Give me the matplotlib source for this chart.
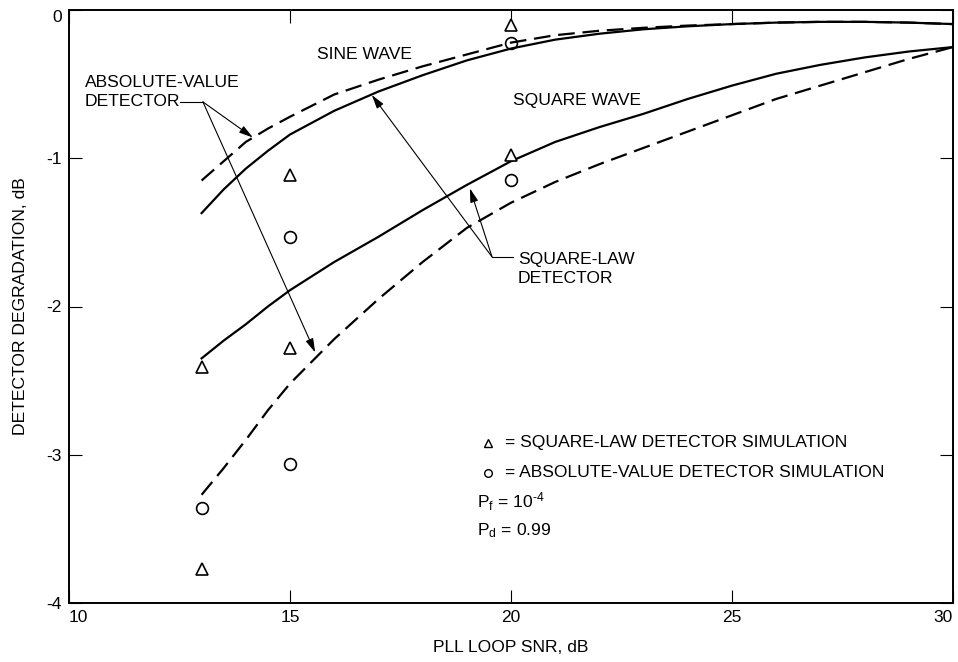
import matplotlib.pyplot as plt

plt.rcParams['font.family'] = ['Liberation Sans', 'DejaVu Sans']
plt.rcParams['mathtext.fontset'] = 'custom'
plt.rcParams['mathtext.rm'] = 'Liberation Sans'
plt.rcParams['mathtext.it'] = 'Liberation Sans'

# curves (PLL loop SNR in dB -> degradation in dB)
snr = [13, 13.5, 14, 14.5, 15, 16, 17, 18, 19, 20, 21, 22, 23, 24, 25, 26, 27, 28, 29, 30]
sine_square_law = [-1.37, -1.21, -1.07, -0.95, -0.84, -0.68, -0.55, -0.44, -0.34, -0.26,
                   -0.20, -0.16, -0.13, -0.11, -0.095, -0.085, -0.08, -0.08, -0.085, -0.095]
sine_abs_value = [-1.15, -1.02, -0.89, -0.80, -0.72, -0.57, -0.47, -0.38, -0.30, -0.22,
                  -0.17, -0.14, -0.12, -0.105, -0.095, -0.085, -0.08, -0.08, -0.085, -0.095]
square_square_law = [-2.35, -2.23, -2.12, -2.00, -1.89, -1.70, -1.53, -1.35, -1.18, -1.02,
                     -0.89, -0.79, -0.70, -0.60, -0.51, -0.43, -0.37, -0.32, -0.28, -0.25]
square_abs_value = [-3.27, -3.09, -2.90, -2.70, -2.52, -2.22, -1.95, -1.70, -1.47, -1.30,
                    -1.16, -1.04, -0.93, -0.82, -0.71, -0.60, -0.51, -0.42, -0.33, -0.25]

# simulation points
sim_snr = [13, 13, 15, 15, 20, 20]
sim_square_law = [-2.41, -3.77, -1.11, -2.28, -0.10, -0.98]
sim_abs_snr = [13, 15, 15, 20, 20]
sim_abs_value = [-3.36, -3.06, -1.53, -0.22, -1.15]

x_ticks = [10, 15, 20, 25, 30]
y_ticks = [0, -1, -2, -3, -4]

FS = 12.6

fig = plt.figure(figsize=(9.58, 6.62), dpi=100)
ax = fig.add_axes([69 / 958, 59 / 662, 884 / 958, 593 / 662])

dash = (0, (7.5, 3.5))
ax.plot(snr, sine_square_law, color='black', lw=1.6)
ax.plot(snr, sine_abs_value, color='black', lw=1.6, linestyle=dash)
ax.plot(snr, square_square_law, color='black', lw=1.6)
ax.plot(snr, square_abs_value, color='black', lw=1.6, linestyle=dash)

ax.plot(sim_snr, sim_square_law, linestyle='none', marker='^', ms=8,
        mfc='white', mec='black', mew=1.2, zorder=5)
ax.plot(sim_abs_snr, sim_abs_value, linestyle='none', marker='o', ms=8.5,
        mfc='none', mec='black', mew=1.2, zorder=5)

ax.set_xlim(10, 30)
ax.set_ylim(-4, 0)
ax.set_xticks(x_ticks)
ax.set_yticks(y_ticks)
ax.set_xticklabels([str(v) for v in x_ticks], fontsize=12.5)
ax.set_yticklabels([str(v) for v in y_ticks], fontsize=12.5)
ax.tick_params(direction='in', length=9.5, width=0.8, top=True, right=True, pad=5)
ax.xaxis.get_ticklabels()[0].set_ha('left')
ax.xaxis.get_ticklabels()[-1].set_ha('right')
ax.yaxis.get_ticklabels()[0].set_va('top')
for s in ax.spines.values():
    s.set_linewidth(1.4)

ax.set_xlabel('PLL LOOP SNR, dB', fontsize=FS, labelpad=11)
ax.set_ylabel('DETECTOR DEGRADATION, dB', fontsize=FS, labelpad=13)

# curve labels
ax.text(15.61, -0.30, 'SINE WAVE', fontsize=FS, va='center')
ax.text(20.05, -0.61, 'SQUARE WAVE', fontsize=FS, va='center')

arrow = dict(arrowstyle='-|>,head_length=0.7,head_width=0.2', lw=0.8,
             color='black', shrinkA=0, shrinkB=0, mutation_scale=12)

# absolute-value detector callout
ax.text(10.36, -0.49, 'ABSOLUTE-VALUE', fontsize=FS, va='center')
ax.text(10.36, -0.62, 'DETECTOR', fontsize=FS, va='center')
abs_origin = (13.03, -0.62)
ax.plot([12.52, abs_origin[0]], [abs_origin[1], abs_origin[1]], color='black', lw=0.8)
ax.annotate('', xy=(14.16, -0.86), xytext=abs_origin, arrowprops=arrow)
ax.annotate('', xy=(15.57, -2.31), xytext=abs_origin, arrowprops=arrow)

# square-law detector callout
ax.text(20.16, -1.686, 'SQUARE-LAW', fontsize=FS, va='center')
ax.text(20.16, -1.81, 'DETECTOR', fontsize=FS, va='center')
sq_origin = (19.57, -1.665)
ax.plot([sq_origin[0], 20.05], [sq_origin[1], sq_origin[1]], color='black', lw=0.8)
ax.annotate('', xy=(16.85, -0.573), xytext=sq_origin, arrowprops=arrow)
ax.annotate('', xy=(19.07, -1.203), xytext=sq_origin, arrowprops=arrow)

# key (U+2010 hyphen so the exponent keeps a short dash, not a math minus)
ax.plot([19.48], [-2.92], linestyle='none', marker='^', ms=5.5, mfc='white', mec='black', mew=1.0)
ax.plot([19.48], [-3.12], linestyle='none', marker='o', ms=5.5, mfc='white', mec='black', mew=1.0)
ax.text(19.86, -2.92, '= SQUARE-LAW DETECTOR SIMULATION', fontsize=FS, va='center')
ax.text(19.86, -3.12, '= ABSOLUTE-VALUE DETECTOR SIMULATION', fontsize=FS, va='center')
ax.text(19.23, -3.32, 'P$_\\mathregular{f}$ = 10$^\\mathregular{\u20104}$', fontsize=FS, va='center')
ax.text(19.23, -3.51, r'P$_\mathregular{d}$ = 0.99', fontsize=FS, va='center')

fig.savefig('out.png', dpi=100)
